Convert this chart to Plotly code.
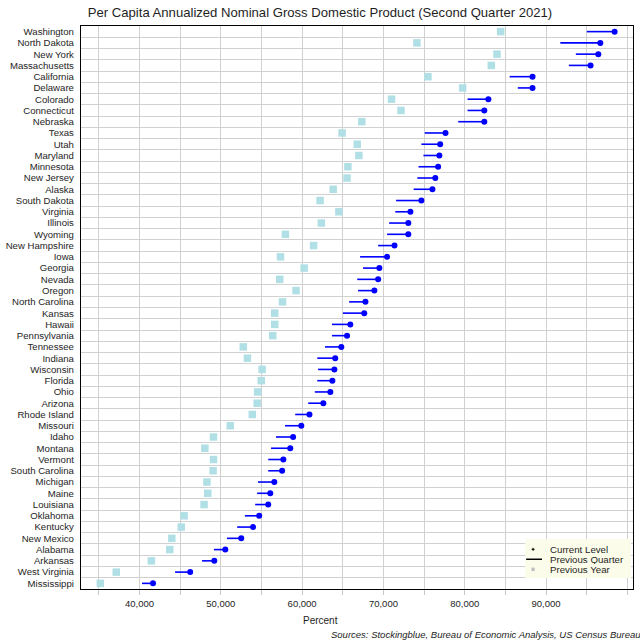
import plotly.graph_objects as go

# Per capita annualized nominal GDP by state, Q2 2021
states = ["Washington", "North Dakota", "New York", "Massachusetts", "California",
          "Delaware", "Colorado", "Connecticut", "Nebraska", "Texas", "Utah",
          "Maryland", "Minnesota", "New Jersey", "Alaska", "South Dakota", "Virginia",
          "Illinois", "Wyoming", "New Hampshire", "Iowa", "Georgia", "Nevada",
          "Oregon", "North Carolina", "Kansas", "Hawaii", "Pennsylvania", "Tennessee",
          "Indiana", "Wisconsin", "Florida", "Ohio", "Arizona", "Rhode Island",
          "Missouri", "Idaho", "Montana", "Vermont", "South Carolina", "Michigan",
          "Maine", "Louisiana", "Oklahoma", "Kentucky", "New Mexico", "Alabama",
          "Arkansas", "West Virginia", "Mississippi"]

current_level = [98440, 96680, 96430, 95480, 88340, 88340, 82910, 82410, 82410, 77640,
                 76980, 76880, 76730, 76380, 76030, 74670, 73320, 73060, 73060, 71360,
                 70450, 69500, 69350, 68890, 67790, 67640, 65930, 65530, 64820, 64070,
                 63970, 63720, 63470, 62610, 60900, 59900, 58890, 58540, 57690, 57540,
                 56580, 56080, 55830, 54720, 53970, 52510, 50550, 49200, 46230, 41660]

previous_quarter = [95020, 91760, 93670, 92810, 85530, 86530, 80350, 80350, 79200, 75080,
                    74670, 74920, 74320, 74170, 73720, 71560, 71460, 70700, 70450, 69350,
                    67130, 67490, 66780, 66880, 65780, 65020, 63670, 63670, 62810, 61860,
                    61960, 61860, 61560, 60750, 59150, 57890, 56780, 56180, 55830, 55830,
                    54570, 54470, 54220, 52960, 52010, 50750, 49150, 47690, 44370, 40300]

previous_year = [84420, 74120, 83970, 83270, 75480, 79750, 71000, 72160, 67340, 64920,
                 66780, 66980, 65630, 65530, 63820, 62210, 64520, 62360, 57940, 61410,
                 57340, 60250, 57240, 59250, 57590, 56630, 56630, 56380, 52760, 53270,
                 55080, 54970, 54520, 54470, 53870, 51160, 49100, 48040, 49100, 49050,
                 48290, 48390, 47940, 45480, 45130, 43970, 43720, 41460, 37140, 35180]

x_labels = [40000, 50000, 60000, 70000, 80000, 90000]
legend_labels = ["Current Level", "Previous Quarter", "Previous Year"]

# quarter-to-current segments, separated by None
seg_x, seg_y = [], []
for s, q, c in zip(states, previous_quarter, current_level):
    seg_x += [q, c, None]
    seg_y += [s, s, None]

fig = go.Figure()

fig.add_trace(go.Scatter(x=previous_year, y=states, mode="markers", name="Previous Year",
                         marker=dict(symbol="square", size=7.5, color="#b0e0e6")))
fig.add_trace(go.Scatter(x=seg_x, y=seg_y, mode="lines", name="Previous Quarter",
                         line=dict(color="#0000ff", width=1.6), hoverinfo="skip"))
fig.add_trace(go.Scatter(x=current_level, y=states, mode="markers", name="Current Level",
                         marker=dict(symbol="circle", size=6, color="#0000ff")))

fig.update_layout(
    template="none",
    width=640, height=640,
    margin=dict(l=81, r=7, t=26, b=51),
    paper_bgcolor="white", plot_bgcolor="white",
    font=dict(family="Liberation Sans, Arial, sans-serif", color="#1e1e1e"),
    title=dict(text="Per Capita Annualized Nominal Gross Domestic Product (Second Quarter 2021)",
               x=0.5, xref="container", y=0.981, yanchor="middle",
               font=dict(size=13.1, color="#1e1e1e")),
    showlegend=False,
)

fig.update_xaxes(
    range=[32800, 100700], tickvals=x_labels, tickformat=",d",
    tickfont=dict(size=9.5), showgrid=True, gridcolor="#d0d0d0", gridwidth=1,
    ticks="outside", ticklen=5, tickcolor="#c8c8c8",
    minor=dict(dtick=5000, tick0=0, showgrid=True, gridcolor="#d0d0d0",
               ticks="outside", ticklen=5, tickcolor="#c8c8c8"),
    showline=True, mirror=True, linecolor="black", linewidth=1.3,
    zeroline=False, automargin=False,
)

fig.update_yaxes(
    type="category", categoryorder="array", categoryarray=states,
    tickmode="array", tickvals=states, ticktext=states,
    range=[len(states) - 0.5, -0.5], autorange=False,
    tickson="boundaries", ticks="",
    tickfont=dict(size=9.6), showgrid=True, gridcolor="#d0d0d0", gridwidth=1,
    showline=True, mirror=True, linecolor="black", linewidth=1.3,
    zeroline=False, automargin=False, ticklabelstandoff=4,
)

fig.add_annotation(text="Percent", xref="paper", yref="paper", x=0.4333, y=-0.0568,
                   xanchor="center", yanchor="middle", showarrow=False,
                   font=dict(size=10))
fig.add_annotation(text="<i>Sources: Stockingblue, Bureau of Economic Analysis, US Census Bureau</i>",
                   xref="paper", yref="paper", x=1.0175, y=-0.0817,
                   xanchor="right", yanchor="middle", showarrow=False,
                   font=dict(size=9.5))

# compact legend box in the lower right, drawn by hand (plotly's rows are too tall)
fig.add_shape(type="rect", xref="paper", yref="paper", x0=0.8045, x1=0.9964,
              y0=0.0195, y1=0.0888, fillcolor="#fcfcea", line_width=0, layer="above")
legend_y = [0.0705, 0.0528, 0.0350]
for label, ly in zip(legend_labels, legend_y):
    fig.add_annotation(text=label, xref="paper", yref="paper", x=0.8479, y=ly,
                       xanchor="left", yanchor="middle", showarrow=False,
                       height=10, borderpad=0, font=dict(size=9.7))
# keys: small cross, black line, grey square
fig.add_shape(type="line", xref="paper", yref="paper", x0=0.8163, x1=0.8217,
              y0=legend_y[0], y1=legend_y[0], line=dict(color="black", width=1), layer="above")
fig.add_shape(type="line", xref="paper", yref="paper", x0=0.819, x1=0.819,
              y0=legend_y[0] - 0.0027, y1=legend_y[0] + 0.0027,
              line=dict(color="black", width=1), layer="above")
fig.add_shape(type="line", xref="paper", yref="paper", x0=0.8064, x1=0.8351,
              y0=legend_y[1], y1=legend_y[1], line=dict(color="black", width=1.5), layer="above")
fig.add_shape(type="rect", xref="paper", yref="paper", x0=0.8160, x1=0.8220,
              y0=legend_y[2] - 0.0030, y1=legend_y[2] + 0.0030,
              fillcolor="#c0c0c0", line_width=0, layer="above")

# drop the default page margin so the figure sits at the window's corner
fig.write_html("out.html", config={"displayModeBar": False},
               post_script="document.body.style.margin='0px';")
